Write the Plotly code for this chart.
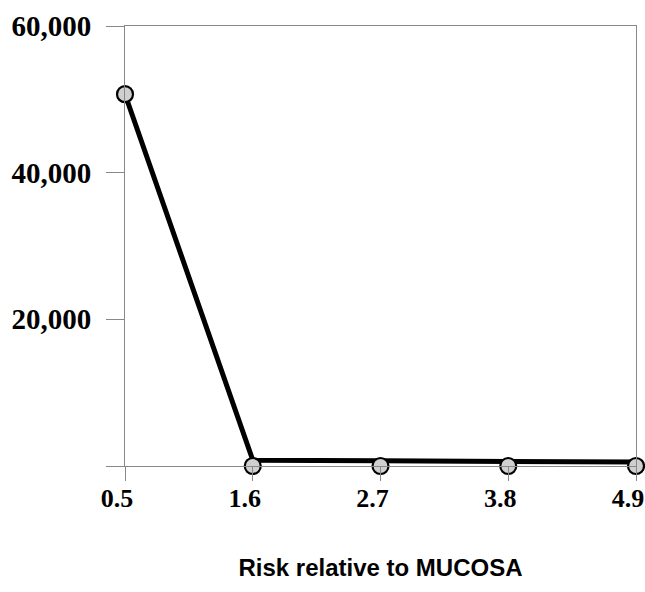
import plotly.graph_objects as go

risk = [0.5, 1.6, 2.7, 3.8, 4.9]
line_values = [50700, 800, 700, 650, 550]
marker_values = [50700, 0, 0, 0, 0]
x_tick_labels = ["<b>0.5</b>", "<b>1.6</b>", "<b>2.7</b>", "<b>3.8</b>", "<b>4.9</b>"]
y_tick_vals = [0, 20000, 40000, 60000]
y_tick_labels = ["", "<b>20,000</b>", "<b>40,000</b>", "<b>60,000</b>"]

fig = go.Figure()
fig.add_trace(go.Scatter(x=risk, y=line_values, mode="lines",
                         line=dict(color="black", width=5),
                         cliponaxis=False, showlegend=False))
fig.add_trace(go.Scatter(x=risk, y=marker_values, mode="markers",
                         marker=dict(symbol="circle", size=16, color="#cfcfcf",
                                     line=dict(color="black", width=2.2)),
                         cliponaxis=False, showlegend=False))

fig.update_layout(
    width=645, height=592,
    margin=dict(l=125, r=9, t=26, b=126, autoexpand=False),
    paper_bgcolor="white", plot_bgcolor="white",
    xaxis=dict(range=[0.5, 4.9], tickvals=risk, ticktext=x_tick_labels,
               ticks="outside", ticklen=14, tickcolor="#888", tickwidth=1,
               showline=True, linecolor="#888", linewidth=1, mirror=True,
               showgrid=False, zeroline=False, automargin=False,
               ticklabelstandoff=-5, ticklabelshift=-8,
               tickfont=dict(family="Liberation Serif", size=26, color="black"),
               title=dict(text="<b>Risk relative to MUCOSA</b>",
                          font=dict(family="Liberation Sans", size=24, color="black"),
                          standoff=46)),
    yaxis=dict(range=[0, 60000], tickvals=y_tick_vals, ticktext=y_tick_labels,
               ticks="outside", ticklen=18, tickcolor="#888", tickwidth=1,
               showline=True, linecolor="#888", linewidth=1, mirror=True,
               showgrid=False, zeroline=False, automargin=False,
               ticklabelstandoff=9,
               tickfont=dict(family="Liberation Serif", size=29, color="black")),
)
fig.write_html("out.html", config={"displayModeBar": False},
               post_script="document.body.style.margin='0';document.body.style.padding='0';")
